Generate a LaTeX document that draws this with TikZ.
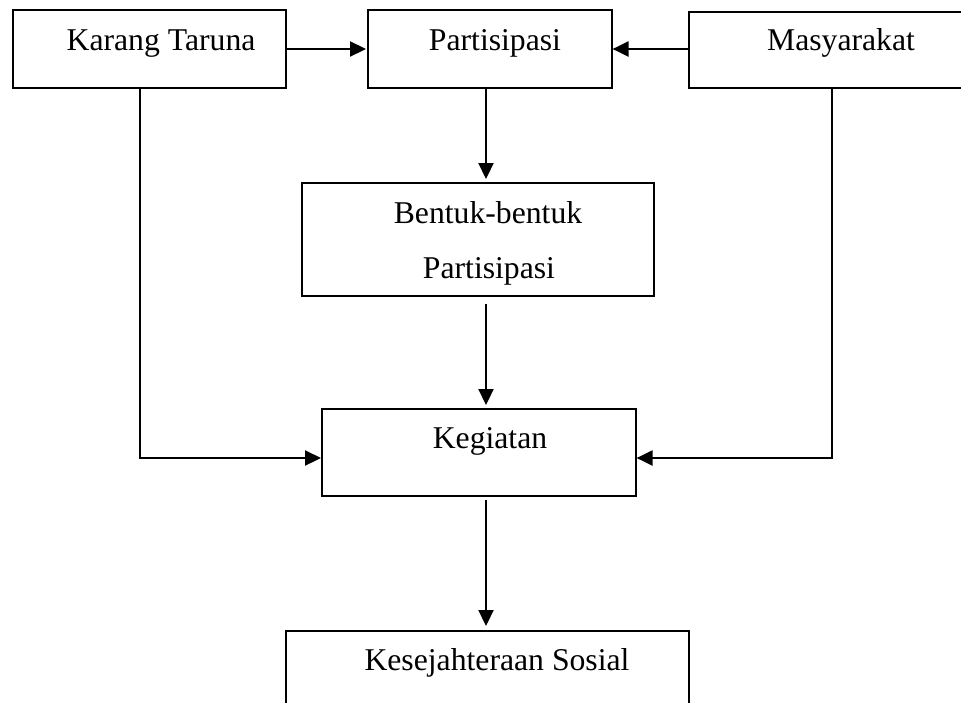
\documentclass[tikz,border=0pt]{standalone}
\usepackage{fontspec}
\setmainfont{Liberation Serif}
\usetikzlibrary{arrows.meta}
\begin{document}
\begin{tikzpicture}[x=1pt,y=-1pt,
  box/.style={draw, line width=1.6pt, rectangle, inner sep=0pt, anchor=north west},
  lbl/.style={anchor=base, inner sep=0pt, font=\fontsize{31.7}{38}\selectfont},
  conn/.style={line width=2.2pt, -{Triangle[length=16pt,width=15pt]}},
  plain/.style={line width=2.2pt}]
\useasboundingbox (0,0) rectangle (961,702);
% boxes
\node[box, minimum width=273pt, minimum height=78pt] (kt) at (12,9) {};
\node[box, minimum width=244pt, minimum height=78pt] (part) at (367,9) {};
\node[box, minimum width=320pt, minimum height=76pt] (mas) at (688,11) {};
\node[box, minimum width=352pt, minimum height=113pt] (bent) at (301,182) {};
\node[box, minimum width=314pt, minimum height=87pt] (keg) at (321,408) {};
\node[box, minimum width=403pt, minimum height=100pt] (kes) at (285,630) {};
% labels
\node[lbl] (tkt) at (161,50) {Karang Taruna};
\node[lbl] (tpart) at (495,50) {Partisipasi};
\node[lbl] (tmas) at (841,50) {Masyarakat};
\node[lbl] (tbent1) at (488,223) {Bentuk-bentuk};
\node[lbl] (tbent2) at (489,278) {Partisipasi};
\node[lbl] (tkeg) at (490,448) {Kegiatan};
\node[lbl] (tkes) at (497,670) {Kesejahteraan Sosial};
% helper coordinates
\coordinate (vx) at (486,0);
\coordinate (lx) at (140,0);
\coordinate (rx) at (832,0);
\coordinate (hy) at (0,458);
\coordinate (ty) at (0,49);
% connectors
\draw[conn, shorten >=1pt] (kt.east |- ty) -- (part.west |- ty);
\draw[conn] (mas.west |- ty) -- (part.east |- ty);
\draw[conn, shorten >=3pt] (part.south -| vx) -- (bent.north -| vx);
\draw[conn, shorten <=7pt, shorten >=3pt] (bent.south -| vx) -- (keg.north -| vx);
\draw[conn, shorten <=3pt, shorten >=4pt] (keg.south -| vx) -- (kes.north -| vx);
\draw[conn] (kt.south -| lx) |- (keg.west |- hy);
\draw[conn] (mas.south -| rx) |- (keg.east |- hy);
\end{tikzpicture}
\end{document}
